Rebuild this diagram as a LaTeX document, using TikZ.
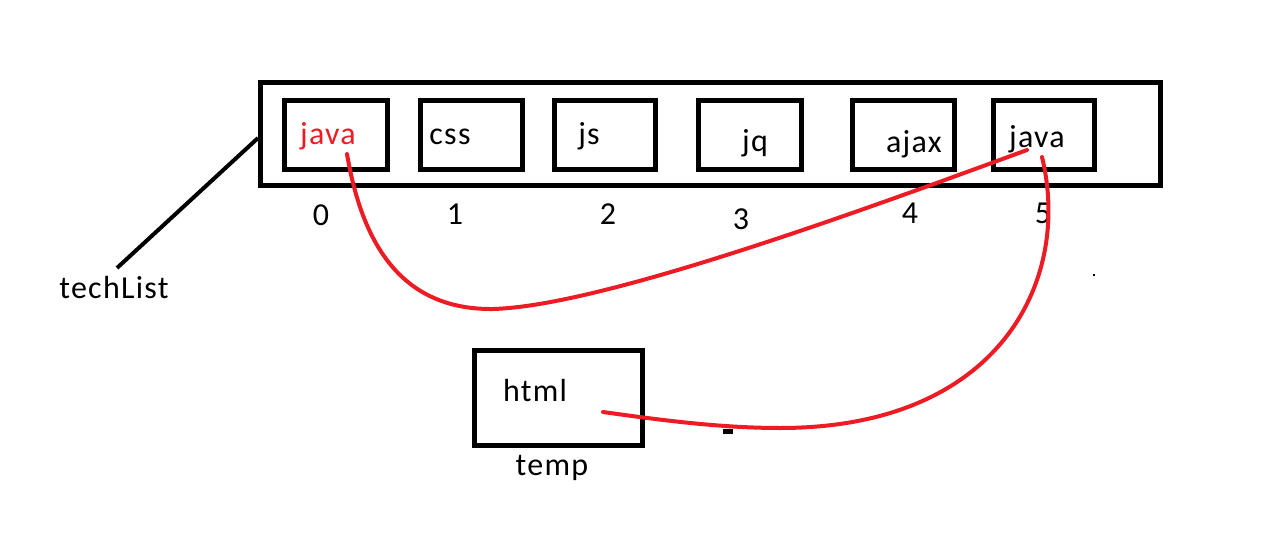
\documentclass[tikz,border=0pt]{standalone}
\usepackage{fontspec}
\setmainfont{Carlito}[LetterSpace=4]
\definecolor{pred}{HTML}{ED1C24}
\begin{document}
\begin{tikzpicture}[x=1pt,y=-1pt,
  cell/.style={draw=black,line width=4.5pt,rectangle,inner sep=0pt,minimum width=103pt,minimum height=69pt},
  lbl/.style={inner sep=0pt,anchor=base,font=\fontsize{32}{32}\selectfont},
  link/.style={draw=pred,line width=4pt,line cap=round}]
\useasboundingbox (0,0) rectangle (1275,546);
% outer array box
\node[draw=black,line width=5pt,rectangle,inner sep=0pt,minimum width=899.5pt,minimum height=102.5pt] (arr) at (710.25,133.75) {};
% cells
\node[cell] (b0) at (336,135) {};
\node[cell,minimum width=102pt] (b1) at (471.5,135) {};
\node[cell,minimum width=101pt] (b2) at (605,135) {};
\node[cell] (b3) at (750,135) {};
\node[cell,minimum width=102pt] (b4) at (903.5,135) {};
\node[cell,minimum width=101pt] (b5) at (1044,135) {};
% cell texts
\node[lbl,text=pred] (t0) at (328,144) {java};
\node[lbl] (t1) at (450,144) {css};
\node[lbl] (t2) at (589,144) {js};
\node[lbl] (t3) at (755,151) {jq};
\node[lbl] (t4) at (914,152) {ajax};
\node[lbl] (t5) at (1037,147) {java};
% indices
\node[lbl] (i0) at (321,225) {0};
\node[lbl] (i1) at (455,224) {1};
\node[lbl] (i2) at (608,224) {2};
\node[lbl] (i3) at (741,229) {3};
\node[lbl] (i4) at (910,223) {4};
\node[lbl] (i5) at (1043,223) {5};
% techList label and pointer
\node[lbl] (tl) at (114,298) {techList};
\coordinate (tlp) at (117,268);
\coordinate (arrp) at (258,138);
\draw[line width=4pt] (tlp) -- (arrp);
% temp box
\node[draw=black,line width=5pt,rectangle,inner sep=0pt,minimum width=168pt,minimum height=95pt] (tb) at (558.5,398) {};
\node[lbl] (th) at (535,401) {html};
\node[lbl] (tt) at (552,475) {temp};
% red connectors
\coordinate (s0) at (347,154);
\coordinate (e5) at (1027,150);
\coordinate (s5) at (1042,157);
\coordinate (eh) at (603,412);
\draw[link] (s0) .. controls (362,242) and (400,310) .. (493,309)
  .. controls (600,306) and (850,215) .. (e5);
\draw[link] (s5) .. controls (1072,280) and (1000,428) .. (780,428)
  .. controls (720,428) and (660,420) .. (eh);
% stray marks
\fill[black] (723,429) rectangle (733,434);
\fill[black] (1093,274) rectangle (1095,276);
\end{tikzpicture}
\end{document}
